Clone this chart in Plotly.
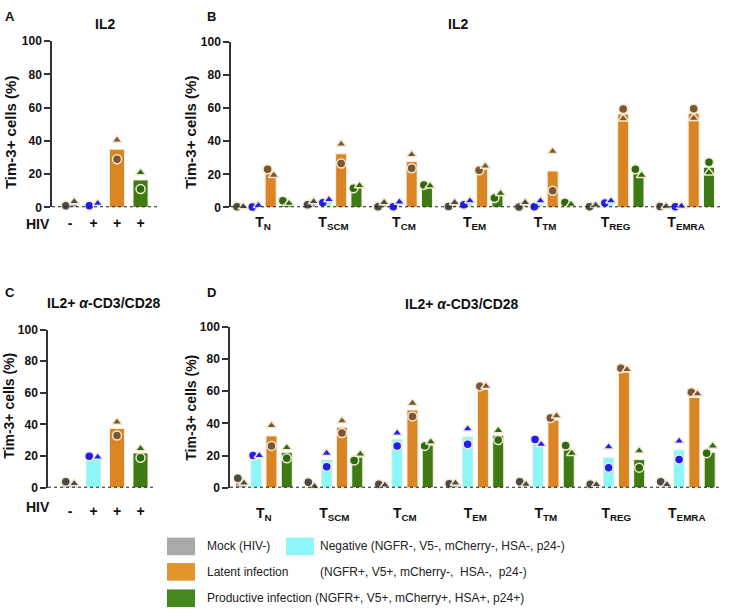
import plotly.graph_objects as go

W, H = 738, 616

# ---------------- data ----------------
SERIES = ["Mock (HIV-)", "Negative", "Latent infection", "Productive infection"]
BAR_COLORS = ["#A8A8A8", "#8DF6F9", "#DB8424", "#3E7B15"]
PT_COLORS = ["#4A4A4A", "#1E1EF2", "#7C5630", "#2C6A10"]
LEG_COLORS = ["#A9A9A9", "#8DF6F9", "#E0962C", "#43891F"]

HIV_LABELS = ["-", "+", "+", "+"]
SUBSETS = ["T<sub>N</sub>", "T<sub>SCM</sub>", "T<sub>CM</sub>", "T<sub>EM</sub>",
           "T<sub>TM</sub>", "T<sub>REG</sub>", "T<sub>EMRA</sub>"]

# Panel A: IL2, total CD4 (mock, negative, latent, productive)
A_bar = [2.0, 1.5, 35.0, 16.5]
A_circle = [1.0, 1.0, 29.0, 11.0]
A_triangle = [3.5, 2.5, 40.5, 21.0]

# Panel C: IL2 + a-CD3/CD28
C_bar = [3.0, 19.0, 37.5, 22.0]
C_circle = [3.9, 20.0, 33.0, 19.0]
C_triangle = [2.7, 19.5, 41.5, 24.8]

# Panel B: IL2 by subset
B_mock_bar = [0.5, 2.5, 1.7, 1.7, 1.6, 0.9, 0.5]
B_mock_circle = [0.3, 1.5, 0.4, 0.5, 0.2, 0.4, 0.5]
B_mock_triangle = [0.5, 3.5, 3.0, 3.0, 3.0, 1.4, 0.6]
B_neg_bar = [0.7, 3.7, 1.8, 2.7, 2.2, 3.3, 0.6]
B_neg_circle = [0.2, 2.8, 0.4, 1.5, 0.4, 2.6, 0.4]
B_neg_triangle = [1.2, 4.7, 3.3, 4.0, 4.0, 4.0, 0.8]
B_lat_bar = [21.0, 32.4, 27.7, 23.0, 22.0, 56.5, 57.0]
B_lat_circle = [23.0, 26.5, 23.7, 22.5, 10.0, 59.5, 59.7]
B_lat_triangle = [19.5, 38.3, 32.0, 25.0, 34.0, 53.7, 54.0]
B_prod_bar = [3.0, 12.0, 12.5, 7.0, 2.4, 20.5, 24.3]
B_prod_circle = [4.0, 11.5, 13.6, 5.7, 3.0, 23.0, 27.3]
B_prod_triangle = [2.5, 13.2, 13.0, 8.5, 1.8, 19.5, 21.0]

# Panel D: IL2 + a-CD3/CD28 by subset
D_mock_bar = [4.5, 2.2, 2.0, 2.8, 3.0, 2.1, 2.9]
D_mock_circle = [6.0, 3.4, 2.2, 2.6, 3.8, 2.2, 3.8]
D_mock_triangle = [3.0, 1.0, 1.8, 3.0, 2.2, 2.0, 2.0]
D_neg_bar = [18.0, 17.5, 30.2, 31.6, 27.6, 19.0, 23.5]
D_neg_circle = [20.0, 13.0, 26.0, 27.0, 30.0, 12.5, 17.5]
D_neg_triangle = [20.0, 21.5, 34.0, 36.6, 27.0, 25.5, 29.0]
D_lat_bar = [32.2, 37.6, 48.3, 61.0, 42.0, 71.8, 56.0]
D_lat_circle = [26.0, 34.0, 44.3, 63.0, 43.3, 74.2, 59.2]
D_lat_triangle = [38.6, 41.6, 52.5, 63.0, 44.7, 73.4, 58.3]
D_prod_bar = [22.0, 19.0, 26.4, 32.6, 24.0, 17.5, 22.0]
D_prod_circle = [18.3, 17.0, 26.0, 29.6, 26.2, 12.5, 21.5]
D_prod_triangle = [25.0, 21.0, 28.6, 35.6, 21.5, 23.0, 26.0]

# ---------------- helpers ----------------
FONT = "Arial, Liberation Sans, sans-serif"


def px(x):
    return x / W


def py(y):
    return 1 - y / H


fig = go.Figure()


def add_points(xa, ya, xs, circ, tri, color, width):
    cx, tx = [], []
    for x, c, t in zip(xs, circ, tri):
        if abs(c - t) < 5:
            cx.append(x - 0.28 * width)
            tx.append(x + 0.28 * width)
        else:
            cx.append(x)
            tx.append(x)
    common = dict(xaxis=xa, yaxis=ya, mode="markers", showlegend=False,
                  cliponaxis=False, hoverinfo="skip")
    fig.add_trace(go.Scatter(x=cx, y=circ,
                             marker=dict(symbol="circle", size=9, color=color,
                                         line=dict(color="#F3E8D2", width=1.5)),
                             **common))
    fig.add_trace(go.Scatter(x=tx, y=tri,
                             marker=dict(symbol="triangle-up", size=9, color=color,
                                         line=dict(color="#F3E8D2", width=1.5)),
                             **common))


def add_bar(xa, ya, xs, vals, color, width):
    fig.add_trace(go.Bar(x=xs, y=vals, width=width, xaxis=xa, yaxis=ya,
                         marker=dict(color=color, line=dict(color="#FBF1E2", width=1)),
                         showlegend=False, hoverinfo="skip"))


# Panels A and C (single group)
for xa, ya, bars, circ, tri in [("x", "y", A_bar, A_circle, A_triangle),
                                ("x3", "y3", C_bar, C_circle, C_triangle)]:
    wA = 0.64
    for s in range(4):
        add_bar(xa, ya, [s], [bars[s]], BAR_COLORS[s], wA)
    for s in range(4):
        add_points(xa, ya, [s], [circ[s]], [tri[s]], PT_COLORS[s], wA)

# Panels B and D (grouped by subset)
B_series = [(B_mock_bar, B_mock_circle, B_mock_triangle),
            (B_neg_bar, B_neg_circle, B_neg_triangle),
            (B_lat_bar, B_lat_circle, B_lat_triangle),
            (B_prod_bar, B_prod_circle, B_prod_triangle)]
D_series = [(D_mock_bar, D_mock_circle, D_mock_triangle),
            (D_neg_bar, D_neg_circle, D_neg_triangle),
            (D_lat_bar, D_lat_circle, D_lat_triangle),
            (D_prod_bar, D_prod_circle, D_prod_triangle)]
wB = 0.156
step = 0.217
for xa, ya, series in [("x2", "y2", B_series), ("x4", "y4", D_series)]:
    for s, (bars, circ, tri) in enumerate(series):
        xs = [g + (s - 1.5) * step for g in range(len(SUBSETS))]
        add_bar(xa, ya, xs, bars, BAR_COLORS[s], wB)
    for s, (bars, circ, tri) in enumerate(series):
        xs = [g + (s - 1.5) * step for g in range(len(SUBSETS))]
        add_points(xa, ya, xs, circ, tri, PT_COLORS[s], wB)

# ---------------- axes ----------------
yax_common = dict(range=[0, 100], tickvals=[0, 20, 40, 60, 80, 100],
                  showgrid=False, zeroline=False, showline=True,
                  linecolor="#333333", linewidth=1.5, ticks="outside",
                  ticklen=6, tickwidth=1.5, tickcolor="#333333",
                  tickfont=dict(family=FONT, size=12, color="#111111", weight="bold"),
                  fixedrange=True)
xax_common = dict(showgrid=False, zeroline=False, showline=False,
                  ticks="outside", tickcolor="rgba(0,0,0,0)",
                  tickfont=dict(family=FONT, size=14, color="#111111", weight="bold"),
                  fixedrange=True)

layout_axes = dict(
    xaxis=dict(domain=[px(52), px(157)], range=[-0.766, 3.70], anchor="y",
               tickvals=[0, 1, 2, 3], ticktext=HIV_LABELS, ticklen=3, **xax_common),
    yaxis=dict(domain=[py(205), py(35)], anchor="x", **yax_common),
    xaxis2=dict(domain=[px(231), px(721)], range=[-0.454, 6.496], anchor="y2",
                tickvals=list(range(7)), ticktext=SUBSETS, ticklen=2, **xax_common),
    yaxis2=dict(domain=[py(205), py(36)], anchor="x2", **yax_common),
    xaxis3=dict(domain=[px(48), px(156)], range=[-0.936, 3.66], anchor="y3",
                tickvals=[0, 1, 2, 3], ticktext=HIV_LABELS, ticklen=10, **xax_common),
    yaxis3=dict(domain=[py(492), py(330)], anchor="x3", **yax_common),
    xaxis4=dict(domain=[px(230), px(722)], range=[-0.48, 6.5], anchor="y4",
                tickvals=list(range(7)), ticktext=SUBSETS, ticklen=12, **xax_common),
    yaxis4=dict(domain=[py(492), py(327)], anchor="x4", **yax_common),
)

# dotted baselines
shapes = []
for xa, ya in [("x", "y"), ("x2", "y2"), ("x3", "y3"), ("x4", "y4")]:
    shapes.append(dict(type="line", xref=f"{xa} domain", yref=ya, x0=0, x1=1, y0=0, y1=0,
                       line=dict(color="#222222", width=2, dash="dot"), layer="above"))

# legend swatches
legend_boxes = [(167, 543, 0), (286, 543, 1), (167, 569, 2), (167, 596, 3)]
for x0, y0, s in legend_boxes:
    shapes.append(dict(type="rect", xref="paper", yref="paper",
                       x0=px(x0), x1=px(x0 + 28), y0=py(y0 + 18), y1=py(y0),
                       fillcolor=LEG_COLORS[s], line=dict(width=0)))

annotations = []


def text(x, y, s, size, bold=True, xanchor="center", angle=0, color="#111111"):
    annotations.append(dict(x=px(x), y=py(y), xref="paper", yref="paper", text=s,
                            showarrow=False, xanchor=xanchor, yanchor="middle",
                            textangle=angle,
                            font=dict(family=FONT, size=size, color=color,
                                      weight="bold" if bold else "normal")))


# panel letters
text(3, 10, "A", 13, xanchor="left")
text(205, 10, "B", 13, xanchor="left")
text(3, 292, "C", 13, xanchor="left")
text(205, 292, "D", 13, xanchor="left")

# titles
text(105, 17, "IL2", 14)
text(458, 17, "IL2", 14)
text(104, 303, "IL2+ <i>α</i>-CD3/CD28", 14)
text(462, 304, "IL2+ <i>α</i>-CD3/CD28", 14)

# y-axis titles
text(10, 128, "Tim-3+ cells (%)", 15, angle=-90)
text(190, 128, "Tim-3+ cells (%)", 15, angle=-90)
text(9, 408, "Tim-3+ cells (%)", 14, angle=-90)
text(191, 410, "Tim-3+ cells (%)", 14, angle=-90)

# HIV row labels
text(52, 222, "HIV", 14, xanchor="right")
text(52, 512, "HIV", 14, xanchor="right")

# legend text
text(205, 552, "Mock (HIV-)", 12, bold=False, xanchor="left", color="#222222")
text(318, 552, "Negative (NGFR-, V5-, mCherry-, HSA-, p24-)", 12, bold=False,
     xanchor="left", color="#222222")
text(205, 578, "Latent infection", 12, bold=False, xanchor="left", color="#222222")
text(318, 578, "(NGFR+, V5+, mCherry-,  HSA-,  p24-)", 12, bold=False,
     xanchor="left", color="#222222")
text(205, 605, "Productive infection (NGFR+, V5+, mCherry+, HSA+, p24+)", 12, bold=False,
     xanchor="left", color="#222222")

fig.update_layout(
    width=W, height=H, margin=dict(l=0, r=0, t=0, b=0),
    paper_bgcolor="white", plot_bgcolor="white",
    barmode="overlay", showlegend=False,
    shapes=shapes, annotations=annotations,
    font=dict(family=FONT),
    **layout_axes,
)

fig.write_html("out.html", config={"displayModeBar": False},
               post_script="document.body.style.margin='0px';")
